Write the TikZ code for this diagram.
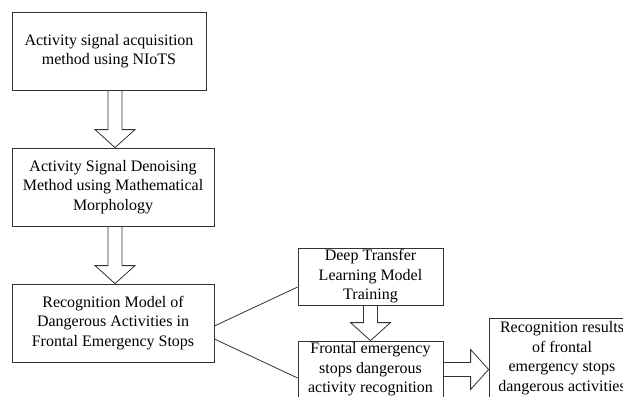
\documentclass[tikz,border=0pt]{standalone}
\usepackage{fontspec}
\setmainfont{Liberation Serif}
\usetikzlibrary{calc}
\tikzset{%
  box/.style={draw=black!80,line width=.8pt,align=center,inner sep=0pt,
    font=\fontsize{16}{19.5}\selectfont,minimum width=#1},
  box/.default=202pt,
  link/.style={draw=black!80,line width=.8pt}
}
\NewDocumentCommand\fatarrow{mm}{%
  \draw[link] let \p1=(#1),\p2=(#2),
    \n1={veclen(\x2-\x1,\y2-\y1)},\n2={atan2(\y2-\y1,\x2-\x1)} in
    [shift={(\p1)},rotate=\n2]
    (0,7)--(\n1-18,7)--(\n1-18,20)--(\n1,0)--(\n1-18,-20)--(\n1-18,-7)--(0,-7);
}

\begin{document}
\begin{tikzpicture}[x=1pt,y=1pt]
  \useasboundingbox (0,0) rectangle (623,-396);
  \clip (0,0) rectangle (623,-396);
  \node[box=194pt,minimum height=78pt] (acq) at (109,-51)
    {Activity signal acquisition\\method using NIoTS};
  \node[box,minimum height=78pt] (denoise) at (113,-187)
    {Activity Signal Denoising\\Method using Mathematical\\Morphology};
  \node[box,minimum height=78pt] (model) at (113,-323)
    {Recognition Model of\\Dangerous Activities in\\Frontal Emergency Stops};
  \node[box=145pt,minimum height=57pt] (train) at (370.5,-276.5)
    {Deep Transfer\\Learning Model\\Training};
  \node[box=145pt,minimum height=57pt] (recog) at (370.5,-369.5)
    {Frontal emergency\\stops dangerous\\activity recognition};
  \node[box=146pt,minimum height=80pt] (result) at (562,-358)
    {Recognition results\\of frontal\\emergency stops\\dangerous activities};
  %%%
  \coordinate (d1) at ([xshift=2pt]denoise.north);
  \coordinate (d2) at ([xshift=2pt]model.north);
  \fatarrow{d1 |- acq.south}{d1}
  \fatarrow{d2 |- denoise.south}{d2}
  \fatarrow{train.south}{recog.north}
  \fatarrow{recog.east}{result.west |- recog.east}
  %%
  \draw[link] ([yshift=-3pt]model.east) -- ([yshift=-10.5pt]train.west);
  \draw[link] ([yshift=-16pt]model.east) -- ([yshift=-8.5pt]recog.west);
\end{tikzpicture}
\end{document}
